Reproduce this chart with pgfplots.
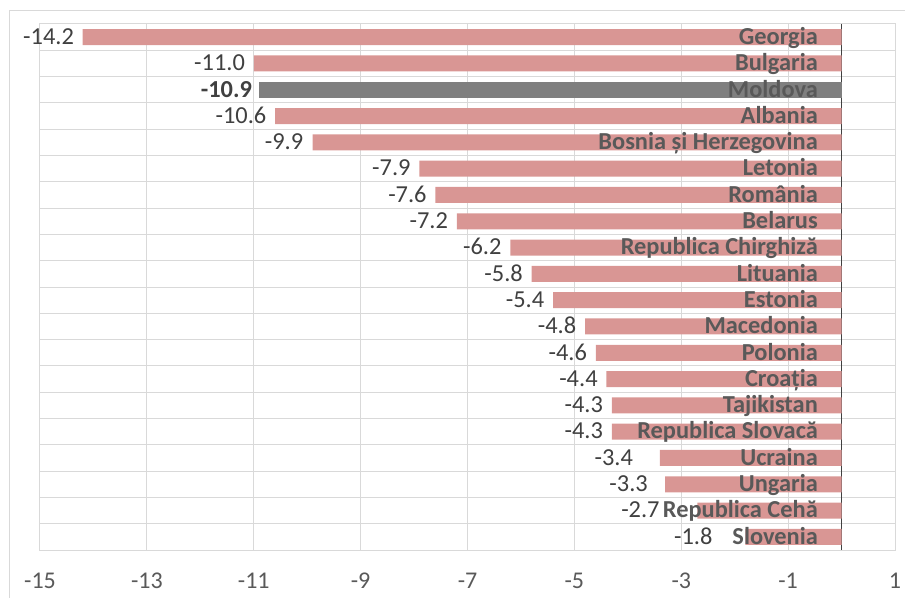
\documentclass[border=0pt]{standalone}
\usepackage{fontspec}
\setmainfont{Carlito}
\usepackage{pgfplots}
\usepackage{pgfplotstable}
\pgfplotsset{compat=1.18}
\definecolor{barpink}{HTML}{D99694}
\definecolor{bargray}{HTML}{7F7F7F}
\definecolor{txtdark}{HTML}{404040}
\definecolor{txtname}{HTML}{595959}
\definecolor{gridc}{HTML}{D9D9D9}

% values (all but Moldova): row index, value, right edge of the value label
\pgfplotstableread[col sep=comma]{
i,v,lx
1,-14.2,-14.36
2,-11.0,-11.16
4,-10.6,-10.76
5,-9.9,-10.07
6,-7.9,-8.06
7,-7.6,-7.76
8,-7.2,-7.36
9,-6.2,-6.36
10,-5.8,-5.96
11,-5.4,-5.56
12,-4.8,-4.96
13,-4.6,-4.76
14,-4.4,-4.56
15,-4.3,-4.46
16,-4.3,-4.46
17,-3.4,-3.90
18,-3.3,-3.62
19,-2.7,-3.40
20,-1.8,-2.41
}\vals

\pgfplotstableread[col sep=comma]{
i,x,name
1,-0.44,Georgia
2,-0.44,Bulgaria
3,-0.44,Moldova
4,-0.44,Albania
5,-0.44,Bosnia și Herzegovina
6,-0.44,Letonia
7,-0.44,România
8,-0.44,Belarus
9,-0.44,Republica Chirghiză
10,-0.44,Lituania
11,-0.44,Estonia
12,-0.44,Macedonia
13,-0.44,Polonia
14,-0.44,Croația
15,-0.44,Tajikistan
16,-0.44,Republica Slovacă
17,-0.44,Ucraina
18,-0.44,Ungaria
19,-0.44,Republica Cehă
20,-0.44,Slovenia
}\names

\begin{document}
\fontsize{18}{21.6}\selectfont
\begin{tikzpicture}
\useasboundingbox (-30pt,-36pt) rectangle (648.75pt,412.5pt);
\draw[gridc, line width=0.75pt] (-22.5pt,-60pt) -- (-22.5pt,404.25pt) -- (700pt,404.25pt);
\begin{axis}[
  at={(0,0)}, anchor=south west,
  scale only axis,
  width=641.25pt, height=394.5pt,
  xmin=-15, xmax=1,
  ymin=0.5, ymax=20.5,
  y dir=reverse,
  xtick={-15,-13,-11,-9,-7,-5,-3,-1,1},
  xticklabels={-15,-13,-11,-9,-7,-5,-3,-1,1},
  ytick={0.5,1.5,...,20.5},
  yticklabels={},
  xmajorgrids, ymajorgrids,
  grid style={draw=gridc, line width=0.75pt},
  axis line style={draw=gridc, line width=0.75pt},
  major tick length=0pt,
  xticklabel style={anchor=base, yshift=-28.5pt, inner sep=0pt, text=txtname, font=\fontsize{18}{21.6}\selectfont},
  extra x ticks={0},
  extra x tick labels={},
  extra x tick style={grid=major, major grid style={draw=black!75, line width=1.1pt}},
  clip=false,
]
% bars
\addplot[xbar, bar width=12pt, bar shift=0pt, fill=barpink, draw=none]
  table[x=v, y=i] {\vals};
\addplot[xbar, bar width=12pt, bar shift=0pt, fill=bargray, draw=none]
  coordinates {(-10.9,3)};
% value labels
\addplot[only marks, mark=none, point meta=explicit symbolic,
  nodes near coords,
  every node near coord/.style={anchor=mid east, inner sep=0pt, yshift=-1.2pt, text=txtdark, font=\fontsize{18.3}{22}\selectfont}]
  table[x=lx, y=i, meta=v] {\vals};
\addplot[only marks, mark=none, point meta=explicit symbolic,
  nodes near coords,
  every node near coord/.style={anchor=mid east, inner sep=0pt, yshift=-1.2pt, text=txtdark, font=\fontsize{18.3}{22}\selectfont\bfseries}]
  coordinates {(-11.03,3) [-10.9]};
% country names
\addplot[only marks, mark=none, point meta=explicit symbolic,
  nodes near coords,
  every node near coord/.style={anchor=mid east, inner sep=0pt, yshift=-1.2pt, text=txtname, font=\fontsize{18.3}{22}\selectfont\bfseries}]
  table[x=x, y=i, meta=name] {\names};
\end{axis}
\end{tikzpicture}
\end{document}
